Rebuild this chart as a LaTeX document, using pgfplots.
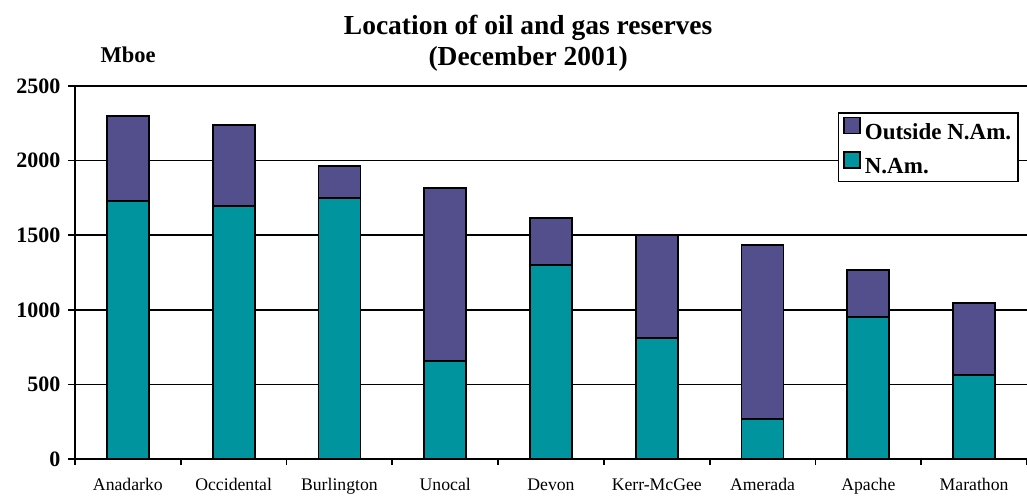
\documentclass[border=0pt]{standalone}
\usepackage{pgfplots}
\pgfplotsset{compat=1.18}
\usepackage{fontspec}
\setmainfont{Liberation Serif}
\definecolor{outside}{HTML}{524F8C}
\definecolor{nam}{HTML}{00949F}

\begin{document}
\begin{tikzpicture}
\begin{axis}[
  scale only axis, width=952pt, height=373pt,
  ybar stacked, bar width=42pt,
  xmin=-0.5, xmax=8.5, ymin=0, ymax=2500,
  clip=false,
  axis x line=bottom, axis y line=left,
  axis line style={-, line width=1.8pt, black},
  xtick={0,...,8},
  xticklabels={Anadarko,Occidental,Burlington,Unocal,Devon,Kerr-McGee,Amerada,Apache,Marathon},
  major x tick style={draw=none},
  minor xtick={-0.5,0.5,...,8.5},
  ytick={0,500,...,2500},
  ymajorgrids, grid style={line width=1.8pt, black},
  tick align=outside, major tick length=7pt, minor tick length=6pt,
  tick style={line width=1.8pt, black},
  /pgf/number format/assume math mode=true,
  /pgf/number format/1000 sep={},
  yticklabel style={font=\fontsize{22}{22}\selectfont\bfseries, xshift=-4pt},
  xticklabel style={font=\fontsize{17.7}{17.7}\selectfont, yshift=-9pt},
  legend style={at={(0.9916,0.930)}, anchor=north east, draw=black, line width=1.6pt,
    font=\fontsize{23}{23}\selectfont\bfseries, inner xsep=5pt, inner ysep=4pt,
    row sep=8pt, column sep=2pt, cells={anchor=west}},
  reverse legend,
  legend image code/.code={\draw[#1, line width=1.4pt] (0pt,-1pt) rectangle (16pt,15pt);},
]
\addplot[fill=nam, draw=black, line width=1.8pt] coordinates {
  (0,1729) (1,1694) (2,1747) (3,657) (4,1300) (5,811) (6,268) (7,952) (8,561)
};
\addlegendentry{N.Am.}
\addplot[fill=outside, draw=black, line width=1.8pt] coordinates {
  (0,572) (1,544) (2,215) (3,1159) (4,315) (5,690) (6,1166) (7,315) (8,485)
};
\addlegendentry{Outside N.Am.}
\node[anchor=base, font=\fontsize{27.5}{27.5}\selectfont\bfseries] at (rel axis cs:0.476,1) [yshift=51pt] {Location of oil and gas reserves};
\node[anchor=base, font=\fontsize{27.5}{27.5}\selectfont\bfseries] at (rel axis cs:0.476,1) [yshift=20pt] {(December 2001)};
\node[anchor=base west, font=\fontsize{22.5}{22.5}\selectfont\bfseries] at (rel axis cs:0.0231,1) [yshift=23pt] {Mboe};
\end{axis}
\pgfresetboundingbox
\path ([xshift=-75pt,yshift=-36pt]current axis.south west) rectangle ([yshift=86pt]current axis.north east);
\end{tikzpicture}
\end{document}
